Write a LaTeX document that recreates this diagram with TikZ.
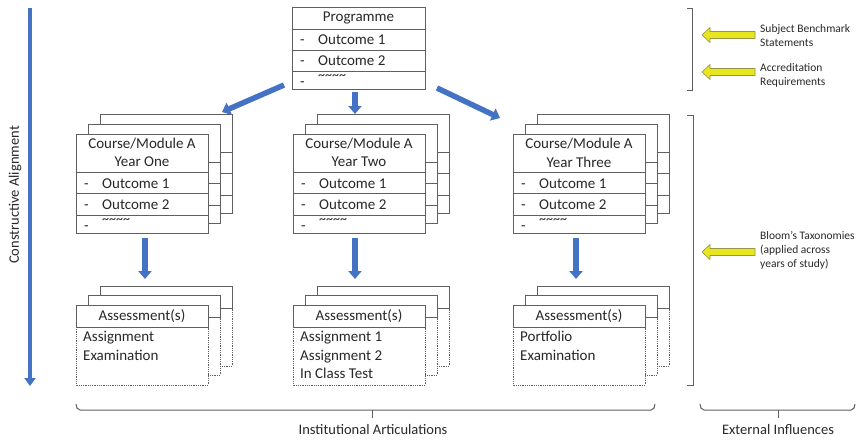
\documentclass[tikz,border=0pt]{standalone}
\usepackage{fontspec}
\setmainfont{Carlito}
\usetikzlibrary{arrows.meta}

\definecolor{flowblue}{RGB}{68,114,196}
\definecolor{linegray}{RGB}{95,95,95}
\definecolor{hiyellow}{RGB}{232,230,30}
\definecolor{yellowedge}{RGB}{150,150,70}
\definecolor{labelgray}{RGB}{40,40,40}

\tikzset{
  boxline/.style={draw=linegray, line width=0.8pt},
  dotline/.style={draw=linegray, line width=0.8pt, densely dotted},
  boxtext/.style={font=\fontsize{15}{18}\selectfont, text=labelgray, inner sep=0pt},
  squiggle/.style={font=\fontsize{14}{14}\selectfont, text=labelgray, inner sep=0pt, anchor=base west},
  sidetext/.style={font=\fontsize{11.5}{14}\selectfont, text=labelgray, inner sep=0pt, align=left, anchor=west},
  axistext/.style={font=\fontsize{14.5}{17}\selectfont, text=labelgray, inner sep=0pt},
  flow/.style={draw=flowblue, line width=5.5pt, -{Triangle[length=8pt,width=13pt]}},
  influence/.style={draw=yellowedge, fill=hiyellow, line width=0.6pt, line join=miter},
  bracket/.style={draw=linegray, line width=1pt},
}

% yellow block arrow pointing left, tip at (#1,#2)
\newcommand\influencearrow[3]{%
  \coordinate (#3) at (#1,#2);
  \path[influence] (#3) -- ++(8,-7.5) -- ++(0,4) -- ++(45,0) -- ++(0,7) -- ++(-45,0) -- ++(0,4) -- cycle;
}

% stack of three outcome cards (course/module), front card at x=#2
\newcommand\coursestack[3]{%
  \foreach \dx/\dy in {24/-20,12/-10,0/0}{%
    \begin{scope}[shift={(#2+\dx,\dy)}]
      \draw[boxline, fill=white] (0,134) rectangle (132,233);
      \draw[boxline] (0,172) -- (132,172) (0,193) -- (132,193) (0,215) -- (132,215);
    \end{scope}
  }
  \node[anchor=north west, minimum width=132pt, minimum height=99pt, inner sep=0pt] (#1) at (#2,134) {};
  \node[boxtext] (#1-t1) at (#2+66,144) {Course/Module A};
  \node[boxtext] (#1-t2) at (#2+66,162) {#3};
  \node[boxtext, anchor=base west] (#1-d1) at (#2+8,188) {-};
  \node[boxtext, anchor=base west] (#1-o1) at (#2+26,188) {Outcome 1};
  \node[boxtext, anchor=base west] (#1-d2) at (#2+8,209.5) {-};
  \node[boxtext, anchor=base west] (#1-o2) at (#2+26,209.5) {Outcome 2};
  \node[boxtext, anchor=base west] (#1-d3) at (#2+8,230) {-};
  \node[squiggle] (#1-o3) at (#2+26,223) {\textasciitilde\textasciitilde\textasciitilde\textasciitilde};
}

% stack of three assessment cards, front card at x=#2, body text #3
\newcommand\assessstack[3]{%
  \foreach \dx/\dy in {24/-19,12/-10,0/0}{%
    \begin{scope}[shift={(#2+\dx,\dy)}]
      \fill[white] (0,305) rectangle (132,385);
      \draw[dotline] (0,327) -- (0,385) -- (132,385) -- (132,327);
      \draw[boxline, fill=white] (0,305) rectangle (132,327);
    \end{scope}
  }
  \node[anchor=north west, minimum width=132pt, minimum height=80pt, inner sep=0pt] (#1) at (#2,305) {};
  \node[boxtext] (#1-h) at (#2+66,316) {Assessment(s)};
  \node[boxtext, anchor=north west, align=left, font=\fontsize{15}{18.5}\selectfont] (#1-b) at (#2+7,331) {#3};
}

\begin{document}
\begin{tikzpicture}[x=1pt, y=-1pt]
  \useasboundingbox (0,0) rectangle (864,440);

  % programme card
  \draw[boxline, fill=white] (292,7) rectangle (425,89);
  \draw[boxline] (292,29) -- (425,29) (292,50) -- (425,50) (292,71) -- (425,71);
  \node[anchor=north west, minimum width=133pt, minimum height=82pt, inner sep=0pt] (prog) at (292,7) {};
  \node[boxtext] (prog-t) at (358.5,18) {Programme};
  \node[boxtext, anchor=base west] (prog-d1) at (300,44) {-};
  \node[boxtext, anchor=base west] (prog-o1) at (318,44) {Outcome 1};
  \node[boxtext, anchor=base west] (prog-d2) at (300,65) {-};
  \node[boxtext, anchor=base west] (prog-o2) at (318,65) {Outcome 2};
  \node[boxtext, anchor=base west] (prog-d3) at (300,86) {-};
  \node[squiggle] (prog-o3) at (318,79) {\textasciitilde\textasciitilde\textasciitilde\textasciitilde};

  % course cards and assessment cards per year
  \coursestack{yr1}{76}{Year One}
  \coursestack{yr2}{293}{Year Two}
  \coursestack{yr3}{513}{Year Three}

  \assessstack{as1}{76}{Assignment\\Examination}
  \assessstack{as2}{293}{Assignment 1\\Assignment 2\\In Class Test}
  \assessstack{as3}{513}{Portfolio\\Examination}

  % programme to courses
  \coordinate (p-left) at (284,85);
  \coordinate (p-mid) at (355,92);
  \coordinate (p-right) at (437,88);
  \coordinate (c1-in) at (222,112);
  \coordinate (c2-in) at (355,114);
  \coordinate (c3-in) at (500,118);
  \draw[flow] (p-left) -- (c1-in);
  \draw[flow] (p-mid) -- (c2-in);
  \draw[flow] (p-right) -- (c3-in);

  % courses to assessments
  \coordinate (yr1-out) at (145,238);
  \coordinate (yr2-out) at (355,238);
  \coordinate (yr3-out) at (576,238);
  \coordinate (as1-in) at (145,279);
  \coordinate (as2-in) at (355,279);
  \coordinate (as3-in) at (576,279);
  \draw[flow] (yr1-out) -- (as1-in);
  \draw[flow] (yr2-out) -- (as2-in);
  \draw[flow] (yr3-out) -- (as3-in);

  % constructive alignment axis
  \coordinate (ca-top) at (30,8);
  \coordinate (ca-bot) at (30,386);
  \draw[draw=flowblue, line width=4.5pt, -{Triangle[length=8pt,width=11pt]}] (ca-top) -- (ca-bot);
  \node[axistext, rotate=90] (ca-label) at (15,195) {Constructive Alignment};

  % brackets on the right
  \draw[bracket] (687,8) -- (692,8) -- (692,90) -- (687,90);
  \draw[bracket] (687,115) -- (693,115) -- (693,385) -- (687,385);

  % external influence arrows and labels
  \influencearrow{702}{35}{inf1}
  \influencearrow{702}{72}{inf2}
  \influencearrow{702}{252}{inf3}
  \node[sidetext] (inf1-t) at (760,36) {Subject Benchmark\\Statements};
  \node[sidetext] (inf2-t) at (760,75) {Accreditation\\Requirements};
  \node[sidetext] (inf3-t) at (760,250) {Bloom's Taxonomies\\(applied across\\years of study)};

  % bottom braces
  \draw[bracket] (76,404) to[out=-90,in=180] (80,410) -- (651,410) to[out=0,in=-90] (655,404);
  \draw[bracket] (372,410) -- (372,418);
  \node[axistext] (ia-label) at (373,430) {Institutional Articulations};
  \draw[bracket] (700,404) to[out=-90,in=180] (704,410) -- (851,410) to[out=0,in=-90] (855,404);
  \draw[bracket] (778,410) -- (778,418);
  \node[axistext] (ei-label) at (778,430) {External Influences};
\end{tikzpicture}
\end{document}
